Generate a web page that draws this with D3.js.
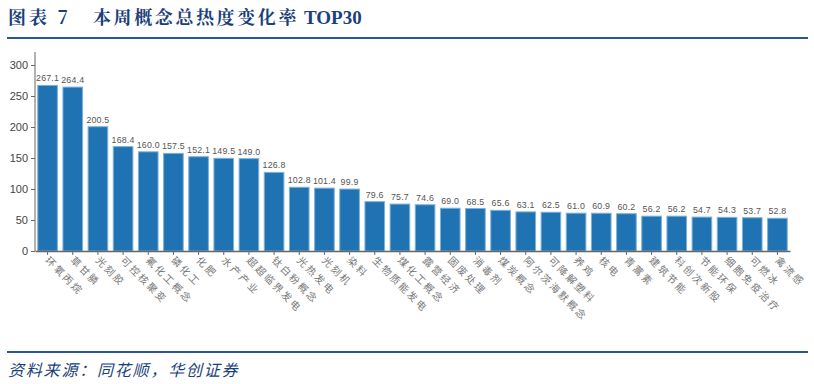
<!DOCTYPE html>
<html><head><meta charset="utf-8">
<script src="https://cdn.jsdelivr.net/npm/d3@7"></script>
<style>body{margin:0;background:#fff;}svg{display:block;}</style>
</head><body>
<svg id="c" width="814" height="384"></svg>
<script>
const categories = ["环氧丙烷","草甘膦","光刻胶","可控核聚变","氟化工概念","磷化工","化肥","水产产业","超超临界发电","钛白粉概念","光热发电","光刻机","染料","生物质能发电","煤化工概念","露营经济","固废处理","消毒剂","煤炭概念","阿尔茨海默概念","可降解塑料","养鸡","核电","青蒿素","建筑节能","科创次新股","节能环保","细胞免疫治疗","可燃冰","禽流感"];
const values = [267.1,264.4,200.5,168.4,160.0,157.5,152.1,149.5,149.0,126.8,102.8,101.4,99.9,79.6,75.7,74.6,69.0,68.5,65.6,63.1,62.5,61.0,60.9,60.2,56.2,56.2,54.7,54.3,53.7,52.8];
const yTicks = [0,50,100,150,200,250,300];
const titleParts = ["图表 7", "本周概念总热度变化率", "TOP30"];
const source = "资料来源：同花顺，华创证券";

const svg = d3.select("#c");
const navy = "#1b3f7a";
const t = svg.append("text").attr("y",24).attr("fill",navy)
  .style("font-family","'Noto Serif CJK SC','Noto Sans CJK SC',serif").style("font-weight","bold").style("font-size","18px");
t.append("tspan").attr("x",8).style("letter-spacing","3px").attr("xml:space","preserve").text(titleParts[0]);
t.append("tspan").attr("x",93).style("letter-spacing","2.6px").text(titleParts[1]);
t.append("tspan").attr("dx",5).style("font-family","'Liberation Serif','Times New Roman',serif").style("font-size","19px").text(titleParts[2]);
svg.append("line").attr("x1",7).attr("x2",808).attr("y1",38).attr("y2",38).attr("stroke","#2a5597").attr("stroke-width",2);
svg.append("line").attr("x1",7).attr("x2",808).attr("y1",352).attr("y2",352).attr("stroke","#2a5597").attr("stroke-width",2);
svg.append("text").attr("x",8).attr("y",376).attr("fill",navy)
  .style("font-family","'Noto Sans CJK SC',sans-serif").style("font-style","italic").style("font-size","16px")
  .style("letter-spacing","1.8px")
  .text(source);

const x = d3.scaleBand().domain(categories).range([35,790]).paddingInner(0.22).paddingOuter(0.11);
const y = d3.scaleLinear().domain([0,321]).range([251,52]);

const g = svg.append("g");
g.selectAll("rect.bar").data(values).join("rect").attr("class","bar")
  .attr("x",(d,i)=>x(categories[i])).attr("width",x.bandwidth())
  .attr("y",d=>y(d)).attr("height",d=>y(0)-y(d))
  .attr("fill","#1f73b3").attr("stroke","#7fb1da").attr("stroke-width",1);

g.selectAll("text.val").data(values).join("text").attr("class","val")
  .attr("x",(d,i)=>x(categories[i])+x.bandwidth()/2).attr("y",d=>y(d)-4)
  .attr("text-anchor","middle").attr("fill","#555")
  .style("font-family","'Liberation Sans',Arial,sans-serif").style("font-size","8.8px")
  .style("letter-spacing","0.2px")
  .text(d=>d.toFixed(1));

const ya = svg.append("g").attr("transform","translate(35,0)")
  .call(d3.axisLeft(y).tickValues(yTicks).tickSize(4).tickPadding(3));
ya.select(".domain").attr("stroke","#666").attr("d","M0,52V251");
ya.selectAll(".tick line").attr("stroke","#666");
ya.selectAll("text").attr("fill","#444").style("font-family","'Liberation Sans',Arial,sans-serif").style("font-size","11px");

const xa = svg.append("g").attr("transform","translate(0,251)")
  .call(d3.axisBottom(x).tickSize(4).tickSizeOuter(0));
xa.select(".domain").attr("stroke","#666").attr("stroke-width",1.5);
xa.selectAll(".tick line").attr("stroke","#666");
xa.selectAll("text").attr("fill","#777")
  .style("font-family","'Noto Sans CJK SC',sans-serif").style("font-size","10px")
  .attr("text-anchor","start").attr("dy","0").attr("y",0)
  .attr("transform","translate(-3,10) rotate(45)").style("letter-spacing","2.2px");
</script>
</body></html>
